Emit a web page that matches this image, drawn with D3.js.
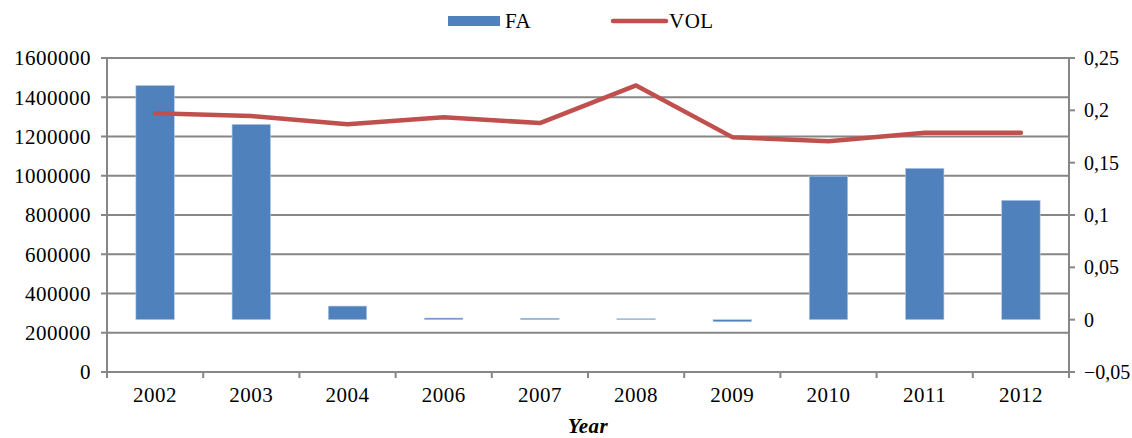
<!DOCTYPE html>
<html><head><meta charset="utf-8">
<script src="https://cdn.jsdelivr.net/npm/d3@7"></script>
<style>body{margin:0;background:#fff}text{font-family:"Liberation Serif","Times New Roman",serif;fill:#000;letter-spacing:0.5px}text.r{letter-spacing:0}</style>
</head><body><svg id="c" width="1132" height="438"></svg>
<script>
const years = ["2002","2003","2004","2006","2007","2008","2009","2010","2011","2012"];
const faValues = [1460000,1262000,336000,275000,274000,272000,256000,998000,1038000,875000];
const volValues = [0.1973,0.1945,0.1868,0.1935,0.1878,0.2238,0.1744,0.1705,0.1785,0.1785];
const leftTicks = [0,200000,400000,600000,800000,1000000,1200000,1400000,1600000];
const rightTicks = [-0.05,0,0.05,0.1,0.15,0.2,0.25];
const seriesNames = ["FA","VOL"];
const xTitle = "Year";

const svg = d3.select("#c");
const L=107,R=1069,T=58,B=372;
const x = d3.scaleBand().domain(years).range([L,R]).paddingInner(0.6).paddingOuter(0.3);
const xb = d3.scaleBand().domain(years).range([L,R]);
const yL = d3.scaleLinear().domain([0,1600000]).range([B,T]);
const yR = d3.scaleLinear().domain([-0.05,0.25]).range([B,T]);
const grid="#868686";
const fmtR = d => d3.format("")(+d.toFixed(2)).replace(".",",");

// gridlines
svg.append("g").selectAll("line").data(leftTicks.slice(1)).join("line")
  .attr("x1",L-6).attr("x2",R).attr("y1",d=>yL(d)).attr("y2",d=>yL(d))
  .attr("stroke",grid).attr("stroke-width",2);

// bars
const base = yL.invert(yR(0));
svg.append("g").selectAll("rect").data(years.map((y,i)=>({y,v:faValues[i]}))).join("rect")
  .attr("x",d=>x(d.y)).attr("width",x.bandwidth())
  .attr("y",d=>Math.min(yL(d.v),yL(base)))
  .attr("height",d=>Math.max(1,Math.abs(yL(d.v)-yL(base))))
  .attr("fill","#4F81BD").attr("stroke","#b9cde5").attr("stroke-width",0.6);

// axes lines
svg.append("line").attr("x1",L).attr("x2",L).attr("y1",T).attr("y2",B).attr("stroke",grid).attr("stroke-width",2);
svg.append("line").attr("x1",R).attr("x2",R).attr("y1",T).attr("y2",B).attr("stroke",grid).attr("stroke-width",2);
svg.append("line").attr("x1",L-6).attr("x2",R+6).attr("y1",B).attr("y2",B).attr("stroke",grid).attr("stroke-width",2);
// bottom category ticks
svg.append("g").selectAll("line").data(years.map(d=>xb(d)).concat([R])).join("line")
  .attr("x1",d=>d).attr("x2",d=>d).attr("y1",B).attr("y2",B+6).attr("stroke",grid).attr("stroke-width",2);
// right ticks
svg.append("g").selectAll("line").data(rightTicks).join("line")
  .attr("x1",R).attr("x2",R+6).attr("y1",d=>yR(d)).attr("y2",d=>yR(d)).attr("stroke",grid).attr("stroke-width",2);

// labels
const fs=21;
svg.append("g").selectAll("text").data(leftTicks).join("text")
  .attr("x",91).attr("y",d=>yL(d)).attr("dy","0.35em").attr("text-anchor","end").attr("font-size",fs).text(d=>d);
svg.append("g").selectAll("text").data(rightTicks).join("text").attr("class","r")
  .attr("x",1084).attr("y",d=>yR(d)).attr("dy","0.35em").attr("text-anchor","start").attr("font-size",20).text(fmtR);
svg.append("g").selectAll("text").data(years).join("text")
  .attr("x",d=>xb(d)+xb.bandwidth()/2).attr("y",395).attr("dy","0.35em").attr("text-anchor","middle").attr("font-size",fs).text(d=>d);
svg.append("text").attr("x",588).attr("y",426).attr("dy","0.35em").attr("text-anchor","middle")
  .attr("font-size",fs).attr("font-weight","bold").attr("font-style","italic").text(xTitle);

// line
const line = d3.line().x((d,i)=>xb(years[i])+xb.bandwidth()/2).y(d=>yR(d));
svg.append("path").datum(volValues).attr("d",line).attr("fill","none")
  .attr("stroke","#C0504D").attr("stroke-width",4.5).attr("stroke-linecap","round").attr("stroke-linejoin","round");

// legend
svg.append("rect").attr("x",448).attr("y",16).attr("width",52).attr("height",10).attr("fill","#4F81BD");
svg.append("text").attr("x",505).attr("y",21).attr("dy","0.35em").attr("font-size",fs).text(seriesNames[0]);
svg.append("line").attr("x1",613).attr("x2",666).attr("y1",21).attr("y2",21).attr("stroke","#C0504D").attr("stroke-width",4.5).attr("stroke-linecap","round");
svg.append("text").attr("x",669).attr("y",21).attr("dy","0.35em").attr("font-size",fs).text(seriesNames[1]);
</script></body></html>
